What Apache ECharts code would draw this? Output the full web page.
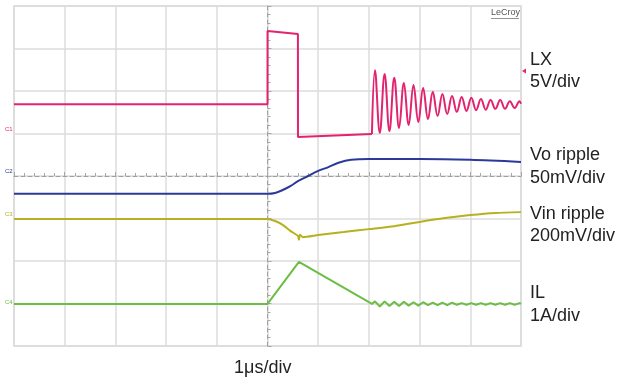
<!DOCTYPE html>
<html><head><meta charset="utf-8">
<script src="https://cdn.jsdelivr.net/npm/echarts@6/dist/echarts.min.js"></script>
<style>html,body{margin:0;padding:0;background:#fff}#c{width:629px;height:384px}</style>
</head><body><div id="c"></div>
<script>
// time in microseconds relative to trigger, values in screen divisions relative to centre line
const lxTime = [-5, 0, 0.001, 0.6, 0.601, 2.06];
const lxVal  = [1.69, 1.69, 3.41, 3.34, 0.92, 0.99];
const lxRingTime = [2.06, 2.12, 2.215, 2.31, 2.405, 2.50, 2.595, 2.69, 2.785, 2.88, 2.975, 3.07, 3.165, 3.26, 3.355, 3.45, 3.545, 3.64, 3.735, 3.83, 3.925, 4.02, 4.115, 4.21, 4.305, 4.40, 4.495, 4.59, 4.685, 4.78, 4.875, 4.97, 5.0];
const lxRingVal  = [0.99, 2.49, 1.01, 2.40, 1.06, 2.31, 1.13, 2.19, 1.20, 2.14, 1.27, 2.07, 1.34, 1.98, 1.41, 1.93, 1.46, 1.88, 1.51, 1.86, 1.53, 1.84, 1.55, 1.81, 1.56, 1.79, 1.58, 1.79, 1.58, 1.76, 1.60, 1.76, 1.70];
const voTime = [-5, 0, 0.15, 0.3, 0.45, 0.6, 0.8, 1.0, 1.2, 1.4, 1.65, 2.0, 3.0, 4.0, 5.0];
const voVal  = [-0.42, -0.42, -0.40, -0.33, -0.24, -0.12, 0, 0.12, 0.21, 0.31, 0.38, 0.40, 0.40, 0.38, 0.33];
const vinTime = [-5, 0, 0.15, 0.3, 0.45, 0.6, 0.62, 0.64, 0.7, 1.0, 1.5, 2.0, 2.5, 3.0, 3.5, 4.0, 4.5, 5.0];
const vinVal  = [-1.01, -1.01, -1.06, -1.15, -1.29, -1.41, -1.50, -1.38, -1.44, -1.39, -1.32, -1.25, -1.18, -1.08, -0.99, -0.92, -0.87, -0.85];
const ilTime = [-5, 0, 0.62, 2.06, 2.12, 2.215, 2.31, 2.405, 2.50, 2.595, 2.69, 2.785, 2.88, 2.975, 3.07, 3.165, 3.26, 3.355, 3.45, 3.545, 3.64, 3.735, 3.83, 3.925, 4.02, 4.115, 4.21, 4.305, 4.40, 4.495, 4.59, 4.685, 4.78, 4.875, 4.97, 5.0];
const ilVal  = [-3.01, -3.01, -2.02, -3.01, -2.95, -3.07, -2.95, -3.06, -2.96, -3.06, -2.96, -3.05, -2.97, -3.05, -2.97, -3.04, -2.98, -3.04, -2.98, -3.04, -2.98, -3.03, -2.99, -3.03, -2.99, -3.03, -2.99, -3.03, -2.99, -3.03, -2.99, -3.03, -2.99, -3.03, -2.99, -3.01];
const channelLabels = ['LX', '5V/div', 'Vo ripple', '50mV/div', 'Vin ripple', '200mV/div', 'IL', '1A/div'];
const timeLabel = '1\u03bcs/div';

const zip = (a, b) => a.map((t, i) => [t, b[i]]);
const C_LX = '#e2236f', C_VO = '#2b3a98', C_VIN = '#b7b01f', C_IL = '#6bbd45';
const chart = echarts.init(document.getElementById('c'), null, {renderer: 'canvas'});
const axisCommon = {
  type: 'value', interval: 1,
  axisLine: {show: true, onZero: true, lineStyle: {color: '#a0a0a0', type: [4, 3], width: 1}},
  axisTick: {show: true, inside: true, length: 4, lineStyle: {color: '#a8a8a8'}},
  minorTick: {show: true, splitNumber: 5, length: 3, lineStyle: {color: '#a8a8a8'}},
  axisLabel: {show: false},
  splitLine: {show: true, lineStyle: {color: '#dcdcdc', width: 1.5}}
};
const lineS = (data, color, smooth) => ({
  type: 'line', data, showSymbol: false, smooth: smooth || false,
  lineStyle: {color, width: 2}, itemStyle: {color}, animation: false, z: 5
});
const fs = 18;
const labelYs = [61, 83, 156, 179, 215, 237, 294, 317];
const graphics = channelLabels.map((t, i) => ({
  type: 'text', left: 530, top: labelYs[i] - fs / 2 - 1,
  style: {text: t, font: fs + 'px "Liberation Sans", Arial, sans-serif', fill: '#222'}
}));
graphics.push({type: 'text', left: 234, top: 359, style: {text: timeLabel, font: fs + 'px "Liberation Sans", Arial, sans-serif', fill: '#222'}});
graphics.push({type: 'text', left: 491, top: 8, style: {text: 'LeCroy', font: '9px "Liberation Sans", Arial, sans-serif', fill: '#555'}});
graphics.push({type: 'line', shape: {x1: 491, y1: 18.5, x2: 519, y2: 18.5}, style: {stroke: '#777', lineWidth: 0.8}});
graphics.push({type: 'polygon', shape: {points: [[522, 71], [526, 68.5], [526, 73.5]]}, style: {fill: C_LX}});
[[130, C_LX, '1'], [172, C_VO, '2'], [215, C_VIN, '3'], [303, C_IL, '4']].forEach(m => {
  graphics.push({type: 'text', left: 5, top: m[0] - 4, style: {text: 'C' + m[2], font: '6px "Liberation Sans", Arial, sans-serif', fill: m[1]}});
});
chart.setOption({
  animation: false,
  grid: {left: 14, right: 108, top: 6, bottom: 38, show: true, borderColor: '#d6d6d6', borderWidth: 1.5},
  xAxis: Object.assign({min: -5, max: 5}, axisCommon),
  yAxis: Object.assign({min: -4, max: 4}, axisCommon),
  series: [
    lineS(zip(lxTime, lxVal), C_LX),
    lineS(zip(lxRingTime, lxRingVal), C_LX, 0.4),
    lineS(zip(voTime, voVal), C_VO, 0.3),
    lineS(zip(vinTime, vinVal), C_VIN, 0.2),
    lineS(zip(ilTime, ilVal), C_IL)
  ],
  graphic: graphics
});
</script></body></html>
